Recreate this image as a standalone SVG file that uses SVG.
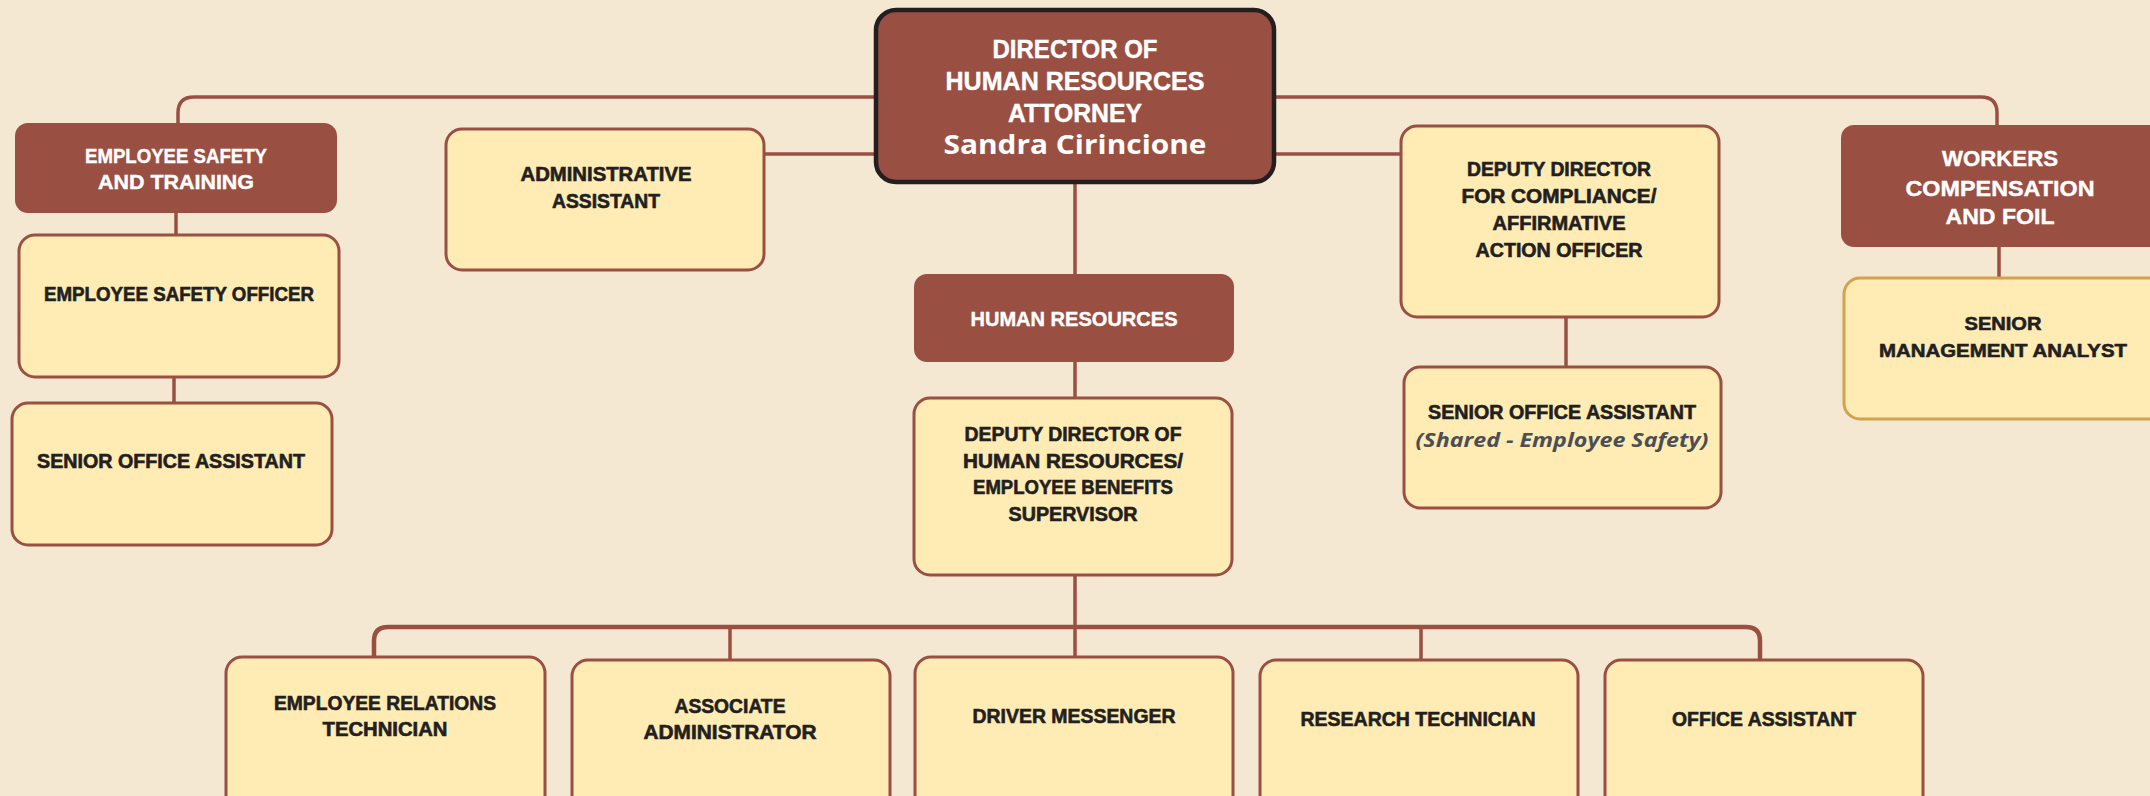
<svg xmlns="http://www.w3.org/2000/svg" width="2150" height="796" viewBox="0 0 2150 796">
<style>
.bg{fill:#f5e8d3}
.red{fill:#9a4f43}
.yel{fill:#feecb4;stroke:#9a4f43;stroke-width:3}
.gold{fill:#feecb4;stroke:#d4a24a;stroke-width:3}
.dir{fill:#9a4f43;stroke:#231f20;stroke-width:4.5}
.c{fill:none;stroke:#9a4f43;stroke-width:3.5}
.cb{fill:none;stroke:#9a4f43;stroke-width:4.5}
text{font-family:"Liberation Sans",Arial,sans-serif;font-weight:bold;text-anchor:middle}
.w{fill:#ffffff;stroke:#ffffff;stroke-width:0.4}
.k{fill:#231f20;stroke:#231f20;stroke-width:0.6}
.n{font-family:"Open Sans","Noto Sans",sans-serif;font-weight:700;stroke-width:0}
.sh{font-family:"Open Sans","Noto Sans",sans-serif;font-weight:700;font-style:italic;fill:#4b4e54}
</style>
<rect class="bg" x="0" y="0" width="2150" height="796"/>
<g id="connectors">
<path class="c" d="M178,123 V113 Q178,97 194,97 H1981 Q1997,97 1997,113 V125"/>
<path class="c" d="M764,154 H876"/>
<path class="c" d="M1274,154 H1400"/>
<path class="c" d="M1075,183 V274"/>
<path class="c" d="M1075,362 V398"/>
<path class="c" d="M1075,575 V657"/>
<path class="c" d="M176,213 V235"/>
<path class="c" d="M174,377 V403"/>
<path class="c" d="M1566,317 V367"/>
<path class="c" d="M1999,247 V278"/>
<path class="cb" d="M374,657 V641 Q374,627 388,627 H1746 Q1760,627 1760,641 V660"/>
<path class="c" d="M730,627 V660"/>
<path class="c" d="M1421,627 V660"/>
</g>
<g id="director">
<rect class="dir" x="876" y="10" width="398" height="172" rx="20"/>
<text class="w" x="1075" y="58" font-size="25" textLength="165" lengthAdjust="spacingAndGlyphs">DIRECTOR OF</text>
<text class="w" x="1075" y="90" font-size="25" textLength="259" lengthAdjust="spacingAndGlyphs">HUMAN RESOURCES</text>
<text class="w" x="1075" y="122" font-size="25" textLength="134" lengthAdjust="spacingAndGlyphs">ATTORNEY</text>
<text class="w n" x="1075" y="154" font-size="27" textLength="263" lengthAdjust="spacingAndGlyphs">Sandra Cirincione</text>
</g>
<g id="employee-safety-training">
<rect class="red" x="15" y="123" width="322" height="90" rx="13"/>
<text class="w" x="176" y="163" font-size="20" textLength="182" lengthAdjust="spacingAndGlyphs">EMPLOYEE SAFETY</text>
<text class="w" x="176" y="189" font-size="20" textLength="156" lengthAdjust="spacingAndGlyphs">AND TRAINING</text>
</g>
<g id="employee-safety-officer">
<rect class="yel" x="19" y="235" width="320" height="142" rx="16"/>
<text class="k" x="179" y="301" font-size="19.5" textLength="270" lengthAdjust="spacingAndGlyphs">EMPLOYEE SAFETY OFFICER</text>
</g>
<g id="senior-office-assistant-1">
<rect class="yel" x="12" y="403" width="320" height="142" rx="16"/>
<text class="k" x="171" y="468" font-size="19.5" textLength="268" lengthAdjust="spacingAndGlyphs">SENIOR OFFICE ASSISTANT</text>
</g>
<g id="administrative-assistant">
<rect class="yel" x="446" y="129" width="318" height="141" rx="16"/>
<text class="k" x="606" y="181" font-size="19.5" textLength="171" lengthAdjust="spacingAndGlyphs">ADMINISTRATIVE</text>
<text class="k" x="606" y="208" font-size="19.5" textLength="108" lengthAdjust="spacingAndGlyphs">ASSISTANT</text>
</g>
<g id="human-resources">
<rect class="red" x="914" y="274" width="320" height="88" rx="13"/>
<text class="w" x="1074" y="326" font-size="20" textLength="207" lengthAdjust="spacingAndGlyphs">HUMAN RESOURCES</text>
</g>
<g id="deputy-director-hr">
<rect class="yel" x="914" y="398" width="318" height="177" rx="16"/>
<text class="k" x="1073" y="441" font-size="19.5" textLength="217" lengthAdjust="spacingAndGlyphs">DEPUTY DIRECTOR OF</text>
<text class="k" x="1073" y="468" font-size="19.5" textLength="220" lengthAdjust="spacingAndGlyphs">HUMAN RESOURCES/</text>
<text class="k" x="1073" y="494" font-size="19.5" textLength="200" lengthAdjust="spacingAndGlyphs">EMPLOYEE BENEFITS</text>
<text class="k" x="1073" y="521" font-size="19.5" textLength="129" lengthAdjust="spacingAndGlyphs">SUPERVISOR</text>
</g>
<g id="deputy-director-compliance">
<rect class="yel" x="1401" y="126" width="318" height="191" rx="16"/>
<text class="k" x="1559" y="176" font-size="19.5" textLength="184" lengthAdjust="spacingAndGlyphs">DEPUTY DIRECTOR</text>
<text class="k" x="1559" y="203" font-size="19.5" textLength="195" lengthAdjust="spacingAndGlyphs">FOR COMPLIANCE/</text>
<text class="k" x="1559" y="230" font-size="19.5" textLength="133" lengthAdjust="spacingAndGlyphs">AFFIRMATIVE</text>
<text class="k" x="1559" y="257" font-size="19.5" textLength="167" lengthAdjust="spacingAndGlyphs">ACTION OFFICER</text>
</g>
<g id="senior-office-assistant-shared">
<rect class="yel" x="1404" y="367" width="317" height="141" rx="16"/>
<text class="k" x="1562" y="419" font-size="19.5" textLength="268" lengthAdjust="spacingAndGlyphs">SENIOR OFFICE ASSISTANT</text>
<text class="sh" x="1562" y="447" font-size="20" textLength="293" lengthAdjust="spacingAndGlyphs">(Shared - Employee Safety)</text>
</g>
<g id="workers-compensation">
<rect class="red" x="1841" y="125" width="330" height="122" rx="13"/>
<text class="w" x="2000" y="166" font-size="22" textLength="116" lengthAdjust="spacingAndGlyphs">WORKERS</text>
<text class="w" x="2000" y="196" font-size="22" textLength="189" lengthAdjust="spacingAndGlyphs">COMPENSATION</text>
<text class="w" x="2000" y="224" font-size="22" textLength="109" lengthAdjust="spacingAndGlyphs">AND FOIL</text>
</g>
<g id="senior-management-analyst">
<rect class="gold" x="1844" y="278" width="330" height="141" rx="16"/>
<text class="k" x="2003" y="330" font-size="19" textLength="77" lengthAdjust="spacingAndGlyphs">SENIOR</text>
<text class="k" x="2003" y="357" font-size="19" textLength="248" lengthAdjust="spacingAndGlyphs">MANAGEMENT ANALYST</text>
</g>
<g id="employee-relations-technician">
<rect class="yel" x="226" y="657" width="319" height="170" rx="16"/>
<text class="k" x="385" y="710" font-size="19.5" textLength="222" lengthAdjust="spacingAndGlyphs">EMPLOYEE RELATIONS</text>
<text class="k" x="385" y="736" font-size="19.5" textLength="125" lengthAdjust="spacingAndGlyphs">TECHNICIAN</text>
</g>
<g id="associate-administrator">
<rect class="yel" x="572" y="660" width="318" height="170" rx="16"/>
<text class="k" x="730" y="713" font-size="19.5" textLength="111" lengthAdjust="spacingAndGlyphs">ASSOCIATE</text>
<text class="k" x="730" y="739" font-size="19.5" textLength="173" lengthAdjust="spacingAndGlyphs">ADMINISTRATOR</text>
</g>
<g id="driver-messenger">
<rect class="yel" x="915" y="657" width="318" height="170" rx="16"/>
<text class="k" x="1074" y="723" font-size="19.5" textLength="203" lengthAdjust="spacingAndGlyphs">DRIVER MESSENGER</text>
</g>
<g id="research-technician">
<rect class="yel" x="1260" y="660" width="318" height="170" rx="16"/>
<text class="k" x="1418" y="726" font-size="19.5" textLength="235" lengthAdjust="spacingAndGlyphs">RESEARCH TECHNICIAN</text>
</g>
<g id="office-assistant">
<rect class="yel" x="1605" y="660" width="318" height="170" rx="16"/>
<text class="k" x="1764" y="726" font-size="19.5" textLength="184" lengthAdjust="spacingAndGlyphs">OFFICE ASSISTANT</text>
</g>
</svg>
